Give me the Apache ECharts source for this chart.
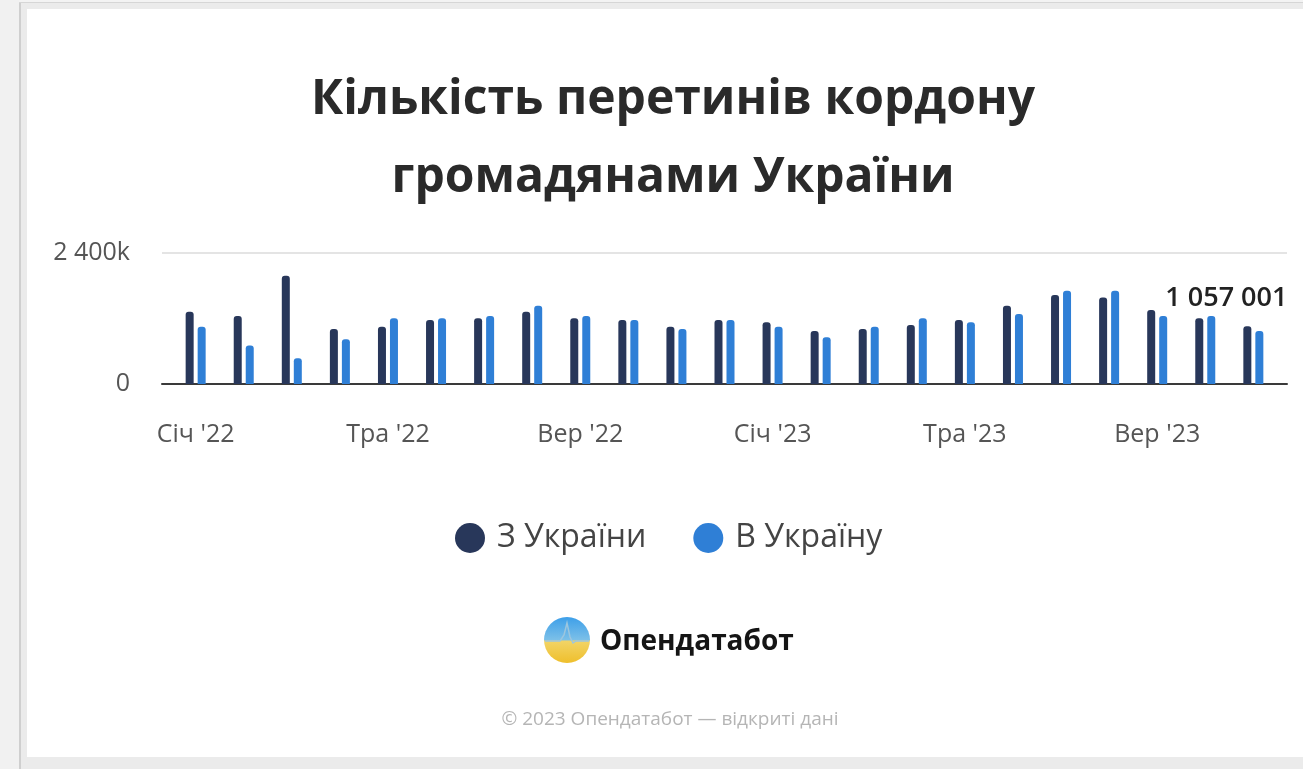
<!DOCTYPE html>
<html>
<head>
<meta charset="utf-8">
<script src="https://cdn.jsdelivr.net/npm/echarts@6/dist/echarts.min.js"></script>
<style>
html,body{margin:0;padding:0;width:1303px;height:769px;overflow:hidden;background:#ebebeb;}
#lstrip{position:absolute;left:0;top:0;width:19px;height:769px;background:#f1f1f1;}
#lline{position:absolute;left:19px;top:2px;width:2px;height:767px;background:#cfcfcf;}
#tstrip{position:absolute;left:19px;top:0;width:1284px;height:2px;background:#f3f3f3;}
#tline{position:absolute;left:19px;top:2px;width:1284px;height:1px;background:#d6d6d6;}
#chart{position:absolute;left:27px;top:9px;width:1276px;height:748px;background:#fff;}
</style>
</head>
<body>
<div id="lstrip"></div><div id="lline"></div><div id="tstrip"></div><div id="tline"></div>
<div id="chart"></div>
<script>
// Months (Jan 2022 – Nov 2023)
const months = ["Січ '22","Лют '22","Бер '22","Кві '22","Тра '22","Чер '22","Лип '22","Сер '22","Вер '22","Жов '22","Лис '22","Гру '22",
                "Січ '23","Лют '23","Бер '23","Кві '23","Тра '23","Чер '23","Лип '23","Сер '23","Вер '23","Жов '23","Лис '23"];
// Tick label positions (month indices)
const tickIdx = [0, 4, 8, 12, 16, 20];
// З України (outbound), people
const outbound = [1324000,1246000,1981000,1009000,1051000,1173000,1204000,1324000,1204000,1173000,1051000,1173000,
                  1131000,972000,1009000,1082000,1173000,1434000,1629000,1587000,1355000,1204000,1057001];
// В Україну (inbound), people
const inbound  = [1051000,704000,474000,821000,1204000,1204000,1246000,1434000,1246000,1173000,1009000,1173000,
                  1051000,857000,1051000,1204000,1131000,1283000,1707000,1707000,1246000,1246000,972000];
const yTicks = [0, 2400000];

const FONT = '"Open Sans", "Noto Sans", sans-serif';
function fmtSpaces(n){ return String(Math.round(n)).replace(/\B(?=(\d{3})+(?!\d))/g, ' '); }

const outData = outbound.map((v,i)=>{
  const d = {value:[i,v]};
  if (i === outbound.length-1) {
    d.label = {show:true, position:'top', offset:[-21,-9], formatter: p=>fmtSpaces(p.value[1]),
               fontFamily:FONT, fontSize:27, fontWeight:600, color:'#222'};
  }
  return d;
});
const inData = inbound.map((v,i)=>[i,v]);

const chart = echarts.init(document.getElementById('chart'));
chart.setOption({
  animation:false,
  backgroundColor:'#ffffff',
  title:{
    text:'Кількість перетинів кордону\nгромадянами України',
    left:641, top:47, textAlign:'center',
    textStyle:{fontFamily:FONT, fontSize:48, fontWeight:'bold', color:'#2a2a2a', lineHeight:78}
  },
  legend:{
    left:428, top:513, padding:0,
    icon:'circle', itemWidth:30, itemHeight:30, itemGap:47,
    textStyle:{fontFamily:FONT, fontSize:32, color:'#444', padding:[0,0,0,7]},
    data:['З України','В Україну']
  },
  grid:{left:135, right:16, top:244, bottom:373},
  xAxis:{
    type:'value', min:-0.7, max:months.length-1+0.7,
    axisLine:{show:true, onZero:true, lineStyle:{color:'#3a3a3a', width:2}},
    axisTick:{show:false},
    splitLine:{show:false},
    axisLabel:{customValues:tickIdx, formatter:v=>months[v], fontFamily:FONT, fontSize:25, color:'#555', margin:38}
  },
  yAxis:{
    type:'value', min:yTicks[0], max:yTicks[1], interval:yTicks[1]-yTicks[0],
    axisLine:{show:false}, axisTick:{show:false},
    splitLine:{lineStyle:{color:'#e4e4e4', width:2}},
    axisLabel:{margin:32, fontFamily:FONT, fontSize:25, color:'#555',
      formatter:v=> v===0 ? '0' : fmtSpaces(v/1000)+'k'}
  },
  series:[
    {name:'З України', type:'bar', data:outData, barWidth:8, barGap:'50%',
     itemStyle:{color:'#28375a', borderRadius:[3,3,0,0]}},
    {name:'В Україну', type:'bar', data:inData, barWidth:8, barGap:'50%',
     itemStyle:{color:'#2f7fd6', borderRadius:[3,3,0,0]}}
  ],
  graphic:[
    {type:'circle', shape:{cx:540, cy:631, r:23},
     style:{fill:new echarts.graphic.LinearGradient(0,0,0,1,[
       {offset:0,color:'#3d9fe9'},{offset:0.5,color:'#7cc0e8'},{offset:0.52,color:'#f2d466'},{offset:1,color:'#efbf2c'}])}},
    {type:'polyline', shape:{points:[[518,632],[533,632],[537,626],[540,614],[543,628],[546,634],[549,632],[562,632]]},
     style:{stroke:'#9cc6df', lineWidth:1.5, fill:null}},
    {type:'text', x:573, y:633,
     style:{text:'Опендатабот', fontFamily:FONT, fontSize:28, fontWeight:'bold', fill:'#151515', verticalAlign:'middle'}},
    {type:'text', x:643, y:711,
     style:{text:'© 2023 Опендатабот — відкриті дані', fontFamily:FONT, fontSize:19, fill:'#b5b5b5', align:'center', verticalAlign:'middle'}}
  ]
});
</script>
</body>
</html>
